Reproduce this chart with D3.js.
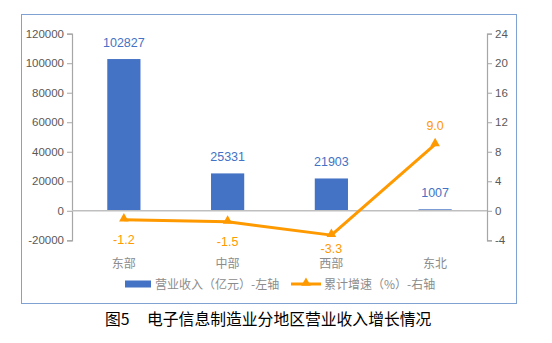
<!DOCTYPE html>
<html>
<head>
<meta charset="utf-8">
<script src="https://cdn.jsdelivr.net/npm/d3@7/dist/d3.min.js"></script>
<style>
  html, body { margin: 0; padding: 0; background: #fff; }
  svg { display: block; font-family: "Noto Sans CJK SC", "Noto Sans", sans-serif; }
</style>
</head>
<body>
<svg id="chart" width="552" height="343"></svg>
<script>
// Regions, revenue (100M yuan) and cumulative growth (%)
const regions = ["东部", "中部", "西部", "东北"];
const revenue = [102827, 25331, 21903, 1007];
const growth = [-1.2, -1.5, -3.3, 9.0];
const leftTicks = [-20000, 0, 20000, 40000, 60000, 80000, 100000, 120000];
const rightTicks = [-4, 0, 4, 8, 12, 16, 20, 24];
const revenueName = "营业收入（亿元）-左轴";
const growthName = "累计增速（%）-右轴";
const titleNo = "图5";
const titleText = "电子信息制造业分地区营业收入增长情况";

const blue = "#4472c4";
const orange = "#ff9900";
const axisGray = "#a6a6a6";
const textGray = "#595959";
const numFont = "'Liberation Sans', Arial, sans-serif";

const svg = d3.select("#chart");
const plot = { left: 72, right: 487, top: 33.7, bottom: 240.3 };

// outer frame
svg.append("rect")
  .attr("x", 21.5).attr("y", 14.5)
  .attr("width", 495).attr("height", 289)
  .attr("fill", "none").attr("stroke", "#7fa2d2").attr("stroke-width", 1);

const x = d3.scaleBand().domain(regions).range([plot.left, plot.right])
  .paddingInner(0.68).paddingOuter(0.34);
const yL = d3.scaleLinear().domain([-20000, 120000]).range([plot.bottom, plot.top]);
const yR = d3.scaleLinear().domain([-4, 24]).range([plot.bottom, plot.top]);
const plain = d => String(d);

// left axis
const gL = svg.append("g").attr("transform", `translate(${plot.left},0)`)
  .call(d3.axisLeft(yL).tickValues(leftTicks).tickSize(5).tickPadding(3).tickFormat(plain));
gL.select(".domain").attr("stroke", axisGray).attr("stroke-width", 1.2);
gL.selectAll(".tick line").attr("stroke", axisGray);
gL.selectAll(".tick text").attr("fill", textGray).style("font-size", "11.5px")
  .style("font-family", numFont);

// right axis
const gR = svg.append("g").attr("transform", `translate(${plot.right},0)`)
  .call(d3.axisRight(yR).tickValues(rightTicks).tickSize(5).tickPadding(3).tickFormat(plain));
gR.select(".domain").attr("stroke", axisGray).attr("stroke-width", 1.2);
gR.selectAll(".tick line").attr("stroke", axisGray);
gR.selectAll(".tick text").attr("fill", textGray).style("font-size", "11.5px")
  .style("font-family", numFont);

// bars
svg.append("g").selectAll("rect").data(revenue).join("rect")
  .attr("x", (d, i) => x(regions[i]))
  .attr("width", x.bandwidth())
  .attr("y", d => yL(Math.max(0, d)))
  .attr("height", d => Math.abs(yL(d) - yL(0)))
  .attr("fill", blue);

// zero baseline
svg.append("line")
  .attr("x1", plot.left).attr("x2", plot.right)
  .attr("y1", yL(0)).attr("y2", yL(0))
  .attr("stroke", "#bfbfbf").attr("stroke-width", 1.5);

// bar value labels
svg.append("g").selectAll("text").data(revenue).join("text")
  .attr("x", (d, i) => x(regions[i]) + x.bandwidth() / 2)
  .attr("y", d => yL(d) - 12)
  .attr("text-anchor", "middle")
  .attr("fill", blue)
  .style("font-size", "12.5px")
  .style("font-family", numFont)
  .text(d => d);

// growth line
const cx = i => x(regions[i]) + x.bandwidth() / 2;
svg.append("path")
  .datum(growth)
  .attr("d", d3.line().x((d, i) => cx(i)).y(d => yR(d)))
  .attr("fill", "none").attr("stroke", orange).attr("stroke-width", 3)
  .attr("stroke-linejoin", "round");

const tri = d3.symbol().type(d3.symbolTriangle).size(40);
svg.append("g").selectAll("path").data(growth).join("path")
  .attr("d", tri)
  .attr("transform", (d, i) => `translate(${cx(i)},${yR(d) - 1})`)
  .attr("fill", orange);

// growth value labels (kept clear of the category labels)
svg.append("g").selectAll("text").data(growth).join("text")
  .attr("x", (d, i) => cx(i))
  .attr("y", d => d >= 0 ? yR(d) - 14 : Math.min(yR(d) + 24, 252.5))
  .attr("text-anchor", "middle")
  .attr("fill", orange)
  .style("font-size", "12.5px")
  .style("font-family", numFont)
  .text(d => d.toFixed(1));

// category labels
svg.append("g").selectAll("text").data(regions).join("text")
  .attr("x", d => x(d) + x.bandwidth() / 2)
  .attr("y", 268)
  .attr("text-anchor", "middle")
  .attr("fill", "#8c8c8c")
  .style("font-size", "12px")
  .text(d => d);

// legend
const lg = svg.append("g");
lg.append("rect").attr("x", 125).attr("y", 280.5).attr("width", 26).attr("height", 7).attr("fill", blue);
lg.append("text").attr("x", 155).attr("y", 288.5).attr("fill", "#8c8c8c")
  .style("font-size", "12px").text(revenueName);
lg.append("line").attr("x1", 291).attr("x2", 321).attr("y1", 284).attr("y2", 284)
  .attr("stroke", orange).attr("stroke-width", 3);
lg.append("path").attr("d", tri).attr("transform", "translate(306,283)").attr("fill", orange);
lg.append("text").attr("x", 324).attr("y", 288.5).attr("fill", "#8c8c8c")
  .style("font-size", "12px").text(growthName);

// caption
const cap = svg.append("text").attr("y", 324.5).attr("fill", "#000").style("font-size", "15.8px");
cap.append("tspan").attr("x", 105).text(titleNo);
cap.append("tspan").attr("x", 147).text(titleText);
</script>
</body>
</html>
